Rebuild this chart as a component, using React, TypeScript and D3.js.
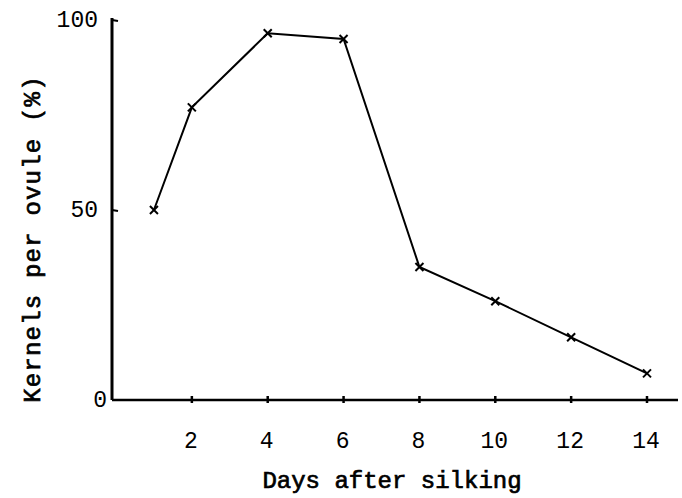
import React, { useEffect, useRef } from "react";
import * as d3 from "d3";

const days = [1, 2, 4, 6, 8, 10, 12, 14];
const kernels = [50, 77, 96.5, 95, 35, 26, 16.5, 7];
const xTicks = [2, 4, 6, 8, 10, 12, 14];
const yTicks = [0, 50, 100];

const App = () => {
  const svgRef = useRef<SVGSVGElement>(null);

  useEffect(() => {
    const svg = d3.select(svgRef.current);
    svg.selectAll("*").remove();
    const width = 682;
    const height = 498;
    const font = "'Liberation Mono', 'Courier New', monospace";

    const x = d3.scaleLinear().domain([0, 14]).range([116, 647]);
    const y = d3.scaleLinear().domain([0, 100]).range([400, 20]);
    const axisX = 112;

    // axes lines
    svg.append("line")
      .attr("x1", axisX).attr("x2", axisX)
      .attr("y1", y(100) - 2).attr("y2", y(0))
      .attr("stroke", "#000").attr("stroke-width", 3);
    svg.append("line")
      .attr("x1", axisX).attr("x2", 678)
      .attr("y1", y(0)).attr("y2", y(0))
      .attr("stroke", "#000").attr("stroke-width", 2.5);

    // y ticks
    svg.selectAll(".ytick")
      .data(yTicks.filter(d => d > 0))
      .enter()
      .append("line")
      .attr("x1", axisX).attr("x2", axisX + 6)
      .attr("y1", d => y(d)).attr("y2", d => y(d) + 1)
      .attr("stroke", "#000").attr("stroke-width", 2);

    svg.selectAll(".ylab")
      .data(yTicks)
      .enter()
      .append("text")
      .text(d => d)
      .attr("x", d => (d === 0 ? 107 : 98))
      .attr("y", d => y(d) + 7)
      .attr("text-anchor", "end")
      .attr("font-family", font)
      .attr("font-size", 23);

    // x ticks
    svg.selectAll(".xtick")
      .data(xTicks)
      .enter()
      .append("line")
      .attr("x1", d => x(d)).attr("x2", d => x(d))
      .attr("y1", y(0) - 4).attr("y2", y(0) + 3)
      .attr("stroke", "#000").attr("stroke-width", 2.5);

    svg.selectAll(".xlab")
      .data(xTicks)
      .enter()
      .append("text")
      .text(d => d)
      .attr("x", d => x(d) - 1)
      .attr("y", 448)
      .attr("text-anchor", "middle")
      .attr("font-family", font)
      .attr("font-size", 23);

    // data line
    const line = d3.line<number>()
      .x((d, i) => x(days[i]))
      .y(d => y(d));
    svg.append("path")
      .datum(kernels)
      .attr("d", line)
      .attr("fill", "none")
      .attr("stroke", "#000")
      .attr("stroke-width", 2);

    // x markers
    const s = 4;
    const marks = svg.selectAll(".mark")
      .data(kernels)
      .enter()
      .append("g")
      .attr("transform", (d, i) => `translate(${x(days[i])},${y(d)})`);
    marks.append("line")
      .attr("x1", -s).attr("y1", -s).attr("x2", s).attr("y2", s)
      .attr("stroke", "#000").attr("stroke-width", 2);
    marks.append("line")
      .attr("x1", -s).attr("y1", s).attr("x2", s).attr("y2", -s)
      .attr("stroke", "#000").attr("stroke-width", 2);

    // axis titles
    svg.append("text")
      .text("Days after silking")
      .attr("x", 392)
      .attr("y", 488)
      .attr("text-anchor", "middle")
      .attr("font-family", font)
      .attr("font-size", 24)
      .attr("stroke", "#000")
      .attr("stroke-width", 0.7);

    svg.append("text")
      .text("Kernels per ovule (%)")
      .attr("transform", "translate(40,239) rotate(-90)")
      .attr("text-anchor", "middle")
      .attr("font-family", font)
      .attr("font-size", 24)
      .attr("letter-spacing", 1.2)
      .attr("stroke", "#000")
      .attr("stroke-width", 0.7);

    svg.attr("width", width).attr("height", height);
  }, []);

  return (
    <svg
      ref={svgRef}
      width={682}
      height={498}
      style={{ position: "absolute", left: 0, top: 0, background: "#fff" }}
    ></svg>
  );
};

export default App;
